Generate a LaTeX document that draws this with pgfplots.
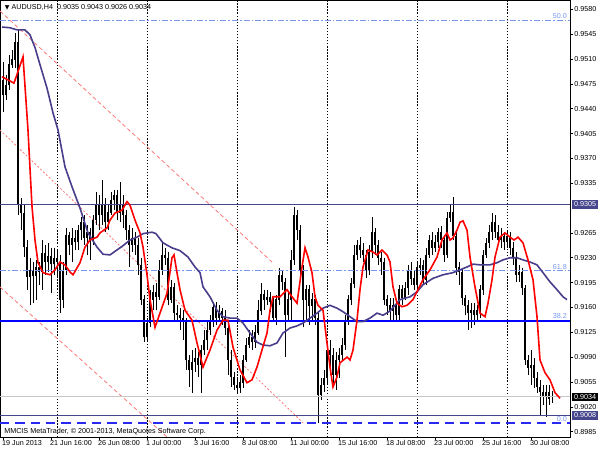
\documentclass[border=0pt]{standalone}
\usepackage{pgfplots}
\pgfplotsset{compat=1.18}
\usepackage{pgfplotstable}
\usepackage{fontspec}
\setmainfont{Liberation Sans}
\newfontfamily\djv{DejaVu Sans}
\newcommand\mtf{\fontsize{5.4}{6.2}\selectfont}

\definecolor{bull}{RGB}{20,130,20}
\definecolor{bear}{RGB}{175,25,25}
\definecolor{slow}{RGB}{72,61,139}
\definecolor{level}{RGB}{70,70,140}
\definecolor{fib}{RGB}{120,150,240}
\definecolor{trend}{RGB}{250,120,120}
\definecolor{bline}{RGB}{40,40,240}

\pgfplotsset{
  discard if not/.style 2 args={x filter/.code={%
    \edef\tempa{\thisrow{#1}}\edef\tempb{#2}%
    \ifx\tempa\tempb\else\def\pgfmathresult{inf}\fi}},
  body/.style={forget plot, draw=none, mark=none,
    error bars/.cd, y dir=plus, y explicit, error mark=none},
}

% H4 candles, i = bar number from 19 Jun 2013 00:00, t = 1 up bar
\pgfplotstableread{
i o h l c t
0 0.9480 0.9506 0.9435 0.9459 0
1 0.9459 0.9487 0.9452 0.9473 1
2 0.9473 0.9516 0.9466 0.9502 1
3 0.9502 0.9523 0.9497 0.9509 1
4 0.9509 0.9547 0.9497 0.9533 1
5 0.9533 0.9551 0.9290 0.9304 0
6 0.9304 0.9314 0.9269 0.9293 0
7 0.9293 0.9304 0.9231 0.9245 0
8 0.9245 0.9255 0.9185 0.9203 0
9 0.9203 0.9230 0.9163 0.9213 1
10 0.9213 0.9224 0.9166 0.9204 0
11 0.9204 0.9227 0.9171 0.9216 1
12 0.9216 0.9224 0.9192 0.9210 0
13 0.9210 0.9255 0.9185 0.9237 1
14 0.9237 0.9248 0.9206 0.9224 0
15 0.9224 0.9251 0.9210 0.9232 1
16 0.9232 0.9244 0.9180 0.9221 0
17 0.9221 0.9244 0.9206 0.9230 1
18 0.9230 0.9241 0.9201 0.9224 0
19 0.9224 0.9234 0.9152 0.9171 0
20 0.9171 0.9224 0.9159 0.9213 1
21 0.9213 0.9272 0.9206 0.9262 1
22 0.9262 0.9266 0.9234 0.9248 0
23 0.9248 0.9272 0.9224 0.9258 1
24 0.9258 0.9269 0.9241 0.9252 0
25 0.9252 0.9276 0.9241 0.9269 1
26 0.9269 0.9287 0.9255 0.9280 1
27 0.9280 0.9290 0.9248 0.9258 0
28 0.9258 0.9276 0.9234 0.9266 1
29 0.9266 0.9272 0.9227 0.9255 0
30 0.9255 0.9290 0.9248 0.9283 1
31 0.9283 0.9323 0.9276 0.9304 1
32 0.9304 0.9318 0.9269 0.9290 0
33 0.9290 0.9340 0.9276 0.9304 1
34 0.9304 0.9314 0.9266 0.9280 0
35 0.9280 0.9304 0.9269 0.9294 1
36 0.9294 0.9323 0.9290 0.9311 1
37 0.9311 0.9325 0.9297 0.9318 1
38 0.9318 0.9325 0.9283 0.9294 0
39 0.9294 0.9337 0.9280 0.9304 1
40 0.9304 0.9318 0.9272 0.9290 0
41 0.9290 0.9297 0.9255 0.9269 0
42 0.9269 0.9276 0.9217 0.9248 0
43 0.9248 0.9272 0.9238 0.9258 1
44 0.9258 0.9266 0.9234 0.9248 0
45 0.9248 0.9258 0.9206 0.9220 0
46 0.9220 0.9230 0.9163 0.9171 0
47 0.9171 0.9178 0.9111 0.9118 0
48 0.9118 0.9145 0.9111 0.9138 1
49 0.9138 0.9185 0.9132 0.9171 1
50 0.9171 0.9192 0.9156 0.9182 1
51 0.9182 0.9194 0.9156 0.9175 0
52 0.9175 0.9227 0.9171 0.9213 1
53 0.9213 0.9251 0.9206 0.9234 1
54 0.9234 0.9244 0.9220 0.9230 0
55 0.9230 0.9238 0.9163 0.9171 0
56 0.9171 0.9199 0.9166 0.9189 1
57 0.9189 0.9194 0.9142 0.9152 0
58 0.9152 0.9163 0.9140 0.9149 0
59 0.9149 0.9159 0.9128 0.9145 0
60 0.9145 0.9156 0.9114 0.9140 0
61 0.9140 0.9145 0.9072 0.9086 0
62 0.9086 0.9093 0.9048 0.9072 0
63 0.9072 0.9100 0.9040 0.9083 1
64 0.9083 0.9103 0.9069 0.9089 1
65 0.9089 0.9097 0.9062 0.9079 0
66 0.9079 0.9107 0.9040 0.9100 1
67 0.9100 0.9128 0.9093 0.9114 1
68 0.9114 0.9140 0.9100 0.9128 1
69 0.9128 0.9149 0.9121 0.9140 1
70 0.9140 0.9168 0.9132 0.9161 1
71 0.9161 0.9168 0.9135 0.9145 0
72 0.9145 0.9163 0.9140 0.9154 1
73 0.9154 0.9159 0.9135 0.9145 0
74 0.9145 0.9156 0.9121 0.9131 0
75 0.9131 0.9140 0.9065 0.9086 0
76 0.9086 0.9100 0.9048 0.9062 0
77 0.9062 0.9069 0.9044 0.9051 0
78 0.9051 0.9061 0.9040 0.9047 0
79 0.9047 0.9065 0.9040 0.9054 1
80 0.9054 0.9093 0.9047 0.9086 1
81 0.9086 0.9117 0.9083 0.9107 1
82 0.9107 0.9128 0.9103 0.9118 1
83 0.9118 0.9128 0.9100 0.9111 0
84 0.9111 0.9135 0.9103 0.9125 1
85 0.9125 0.9171 0.9121 0.9156 1
86 0.9156 0.9194 0.9149 0.9178 1
87 0.9178 0.9185 0.9156 0.9171 0
88 0.9171 0.9185 0.9163 0.9175 1
89 0.9175 0.9182 0.9154 0.9168 0
90 0.9168 0.9173 0.9140 0.9145 0
91 0.9145 0.9178 0.9135 0.9171 1
92 0.9171 0.9216 0.9163 0.9206 1
93 0.9206 0.9213 0.9185 0.9196 0
94 0.9196 0.9201 0.9090 0.9149 0
95 0.9149 0.9182 0.9140 0.9171 1
96 0.9171 0.9241 0.9142 0.9227 1
97 0.9227 0.9302 0.9220 0.9290 1
98 0.9290 0.9297 0.9255 0.9269 0
99 0.9269 0.9276 0.9206 0.9213 0
100 0.9213 0.9220 0.9132 0.9171 0
101 0.9171 0.9192 0.9142 0.9185 1
102 0.9185 0.9192 0.9135 0.9163 0
103 0.9163 0.9180 0.9142 0.9171 1
104 0.9171 0.9178 0.9135 0.9145 0
105 0.9145 0.9154 0.8997 0.9037 0
106 0.9037 0.9061 0.9030 0.9051 1
107 0.9051 0.9072 0.9041 0.9061 1
108 0.9061 0.9111 0.9051 0.9100 1
109 0.9100 0.9114 0.9065 0.9093 0
110 0.9093 0.9103 0.9051 0.9065 0
111 0.9065 0.9097 0.9044 0.9086 1
112 0.9086 0.9103 0.9061 0.9093 1
113 0.9093 0.9117 0.9086 0.9107 1
114 0.9107 0.9149 0.9100 0.9142 1
115 0.9142 0.9178 0.9135 0.9171 1
116 0.9171 0.9201 0.9163 0.9194 1
117 0.9194 0.9248 0.9187 0.9234 1
118 0.9234 0.9255 0.9227 0.9248 1
119 0.9248 0.9259 0.9230 0.9241 0
120 0.9241 0.9251 0.9224 0.9234 0
121 0.9234 0.9241 0.9201 0.9213 0
122 0.9213 0.9248 0.9206 0.9238 1
123 0.9238 0.9287 0.9230 0.9266 1
124 0.9266 0.9272 0.9234 0.9248 0
125 0.9248 0.9255 0.9220 0.9230 0
126 0.9230 0.9238 0.9206 0.9224 0
127 0.9224 0.9230 0.9163 0.9171 0
128 0.9171 0.9178 0.9149 0.9163 0
129 0.9163 0.9173 0.9140 0.9156 0
130 0.9156 0.9173 0.9140 0.9163 1
131 0.9163 0.9171 0.9142 0.9149 0
132 0.9149 0.9192 0.9142 0.9185 1
133 0.9185 0.9192 0.9163 0.9173 0
134 0.9173 0.9196 0.9171 0.9187 1
135 0.9187 0.9220 0.9178 0.9213 1
136 0.9213 0.9224 0.9192 0.9201 0
137 0.9201 0.9213 0.9185 0.9192 0
138 0.9192 0.9224 0.9185 0.9216 1
139 0.9216 0.9230 0.9206 0.9220 1
140 0.9220 0.9227 0.9192 0.9199 0
141 0.9199 0.9244 0.9192 0.9234 1
142 0.9234 0.9262 0.9230 0.9255 1
143 0.9255 0.9266 0.9234 0.9244 0
144 0.9244 0.9262 0.9238 0.9252 1
145 0.9252 0.9272 0.9244 0.9266 1
146 0.9266 0.9275 0.9244 0.9255 0
147 0.9255 0.9262 0.9224 0.9234 0
148 0.9234 0.9294 0.9230 0.9286 1
149 0.9286 0.9304 0.9280 0.9294 1
150 0.9294 0.9316 0.9255 0.9261 0
151 0.9261 0.9269 0.9206 0.9216 0
152 0.9216 0.9224 0.9192 0.9210 0
153 0.9210 0.9216 0.9163 0.9173 0
154 0.9173 0.9178 0.9149 0.9163 0
155 0.9163 0.9171 0.9128 0.9152 0
156 0.9152 0.9166 0.9131 0.9156 1
157 0.9156 0.9166 0.9135 0.9149 0
158 0.9149 0.9163 0.9142 0.9156 1
159 0.9156 0.9192 0.9145 0.9185 1
160 0.9185 0.9241 0.9178 0.9234 1
161 0.9234 0.9258 0.9230 0.9251 1
162 0.9251 0.9276 0.9244 0.9266 1
163 0.9266 0.9293 0.9255 0.9280 1
164 0.9280 0.9290 0.9258 0.9266 0
165 0.9266 0.9276 0.9248 0.9255 0
166 0.9255 0.9272 0.9244 0.9261 1
167 0.9261 0.9266 0.9241 0.9252 0
168 0.9252 0.9269 0.9244 0.9261 1
169 0.9261 0.9266 0.9234 0.9244 0
170 0.9244 0.9252 0.9220 0.9230 0
171 0.9230 0.9238 0.9196 0.9206 0
172 0.9206 0.9220 0.9196 0.9210 1
173 0.9210 0.9216 0.9178 0.9187 0
174 0.9187 0.9192 0.9079 0.9086 0
175 0.9086 0.9093 0.9065 0.9075 0
176 0.9075 0.9100 0.9051 0.9079 1
177 0.9079 0.9089 0.9047 0.9061 0
178 0.9061 0.9069 0.9040 0.9048 0
179 0.9048 0.9058 0.9009 0.9041 0
180 0.9041 0.9051 0.9023 0.9034 0
181 0.9034 0.9051 0.9006 0.9040 1
182 0.9040 0.9051 0.9023 0.9032 0
183 0.9035 0.9043 0.9026 0.9034 0
}\candles

\begin{document}
\begin{tikzpicture}
\useasboundingbox (0,0) rectangle (450pt,337.5pt);
\begin{axis}[
  at={(0pt,337.5pt)}, anchor=north west,
  scale only axis, width=427.5pt, height=327.75pt,
  xmin=-1, xmax=189, ymin=0.89775, ymax=0.95931,
  clip mode=individual,
  axis line style={black, line width=0.5pt},
  xtick={0,16,...,176},
  xticklabels={19 Jun 2013, 21 Jun 16:00, 26 Jun 08:00, 1 Jul 00:00,
    3 Jul 16:00, 8 Jul 08:00, 11 Jul 00:00, 15 Jul 16:00, 18 Jul 08:00,
    23 Jul 00:00, 25 Jul 16:00, 30 Jul 08:00},
  xticklabel style={anchor=north west, xshift=-1.8pt, yshift=0.5pt, inner sep=1pt},
  extra x ticks={18,48,78,108,138,168},
  extra x tick labels={},
  extra x tick style={grid=major, major tick length=0pt,
    major grid style={black, line width=0.5pt, dash pattern=on 1pt off 1.3pt}},
  ytick={0.8985,0.9020,0.9055,0.9090,0.9125,0.9160,0.9195,0.9230,0.9265,
    0.9335,0.9370,0.9405,0.9440,0.9475,0.9510,0.9545,0.9580},
  scaled y ticks=false,
  yticklabel pos=right,
  xtick pos=bottom, ytick pos=right,
  tick align=outside, major tick length=2pt,
  tick style={black, line width=0.4pt},
  yticklabel style={inner sep=1pt, /pgf/number format/.cd, fixed, fixed zerofill,
    precision=4, assume math mode=true},
  tick label style={font=\mtf},
]
% trend lines
\addplot[forget plot, trend, line width=0.6pt, dash pattern=on 3pt off 2pt]
  coordinates {(-1,0.95776) (89.67,0.92240)};
\addplot[forget plot, trend, line width=0.6pt, dash pattern=on 1.5pt off 1.5pt]
  coordinates {(-1,0.94100) (100,0.89975)};
\addplot[forget plot, trend, line width=0.6pt, dash pattern=on 3pt off 2pt]
  coordinates {(-1,0.91888) (54.67,0.89775)};

% candles: wicks, body outlines, body fills
\addplot[body, error bar style={draw=black, line width=0.6pt}]
  table[x=i, y=l, y error plus expr=\thisrow{h}-\thisrow{l}] {\candles};
\addplot[body, error bar style={draw=black, line width=2.2pt}]
  table[x=i, y expr={min(\thisrow{o},\thisrow{c})-0.00003},
    y error plus expr={abs(\thisrow{c}-\thisrow{o})+0.00006}] {\candles};
\addplot[discard if not={t}{1}, body, error bar style={draw=bull, line width=1.2pt}]
  table[x=i, y expr={min(\thisrow{o},\thisrow{c})+0.00004},
    y error plus expr={max(abs(\thisrow{c}-\thisrow{o})-0.00008,0)}] {\candles};
\addplot[discard if not={t}{0}, body, error bar style={draw=bear, line width=1.2pt}]
  table[x=i, y expr={min(\thisrow{o},\thisrow{c})+0.00004},
    y error plus expr={max(abs(\thisrow{c}-\thisrow{o})-0.00008,0)}] {\candles};

% horizontal levels
\addplot[forget plot, fib, line width=0.75pt, dash pattern=on 4.5pt off 1.5pt on 1.2pt off 1.5pt]
  coordinates {(-1,0.95649) (189,0.95649)};
\addplot[forget plot, fib, line width=0.75pt, dash pattern=on 4.5pt off 1.5pt on 1.2pt off 1.5pt]
  coordinates {(-1,0.92114) (189,0.92114)};
\addplot[forget plot, blue, line width=1.5pt]
  coordinates {(-1,0.91413) (189,0.91413)};
\addplot[forget plot, level, line width=1.1pt]
  coordinates {(-1,0.9305) (189,0.9305)};
\addplot[forget plot, black!22, line width=0.75pt]
  coordinates {(-1,0.9034) (189,0.9034)};
\addplot[forget plot, level, line width=1.1pt]
  coordinates {(-1,0.9008) (189,0.9008)};
\addplot[forget plot, bline, line width=0.9pt, dash pattern=on 7pt off 4.5pt]
  coordinates {(-1,0.89973) (189,0.89973)};

% slow moving average
\addplot[slow, line width=1.2pt] coordinates {
(-0.33,0.9555) (2.33,0.9554) (4.67,0.9551) (7.33,0.9551) (9,0.9544)
(10.67,0.9526) (12.33,0.9502) (14.67,0.9469) (16.67,0.9434) (18.33,0.9410)
(20.67,0.9358) (23,0.9330) (25.67,0.9300) (28.33,0.9265) (31.33,0.9245)
(33.33,0.9235) (35.67,0.9234) (38,0.9241) (40,0.9247) (42.33,0.9255)
(44.67,0.9259) (46.67,0.9264) (49.67,0.9266) (51,0.9264) (53.33,0.9251)
(56.33,0.9244) (59,0.9240) (61.67,0.9231) (64,0.9217) (65.67,0.9209)
(66.67,0.9189) (69,0.9175) (71.33,0.9156) (73.33,0.9147) (75.67,0.9145)
(78,0.9145) (80,0.9138) (82.33,0.9124) (84.67,0.9111) (86.67,0.9107)
(89,0.9106) (91.33,0.9110) (93.33,0.9124) (95.67,0.9131) (98,0.9134)
(100,0.9138) (102.33,0.9145) (104.67,0.9152) (106.67,0.9159) (109,0.9163)
(111.33,0.9159) (113.33,0.9154) (115.67,0.9147) (118,0.9140) (120,0.9140)
(122.33,0.9145) (124.67,0.9152) (126.67,0.9149) (129,0.9155) (132.33,0.9171)
(135.67,0.9175) (138,0.9182) (140,0.9192) (143.33,0.9201) (146.67,0.9206)
(150,0.9209) (152.33,0.9213) (154.67,0.9217) (156.67,0.9221) (159,0.9220)
(162.33,0.9220) (164.67,0.9223) (166.67,0.9227) (169,0.9230) (171.33,0.9230)
(173.33,0.9227) (175.67,0.9224) (178,0.9220) (180,0.9209) (182.33,0.9196)
(184.67,0.9185) (186.67,0.9175) (188,0.9171)};

% fast moving average
\addplot[red, line width=1.2pt] coordinates {
(-0.33,0.9485) (3.67,0.9476) (6.67,0.9513) (8.33,0.9410) (9.67,0.9302)
(10.67,0.9255) (11.67,0.9223) (13.33,0.9209) (15.67,0.9206) (17.33,0.9213)
(19,0.9224) (20.67,0.9220) (22.33,0.9210) (23.33,0.9206) (25.67,0.9223)
(27.33,0.9245) (29,0.9255) (31.33,0.9259) (32.33,0.9265) (34.67,0.9272)
(35.67,0.9283) (37.33,0.9293) (39.67,0.9297) (41.33,0.9309) (42.33,0.9304)
(44,0.9283) (45.67,0.9265) (46.67,0.9245) (48,0.9206) (49,0.9171)
(50.67,0.9132) (52.33,0.9152) (54.67,0.9180) (56.33,0.9230) (57,0.9234)
(58,0.9209) (59,0.9185) (60.67,0.9156) (63,0.9142) (64.67,0.9110)
(66.67,0.9076) (69,0.9100) (71.33,0.9128) (73.33,0.9142) (75,0.9142)
(76.67,0.9104) (79,0.9072) (81.33,0.9054) (83,0.9058) (84.67,0.9076)
(86.33,0.9100) (88,0.9124) (89,0.9156) (90,0.9175) (92.33,0.9175)
(94.67,0.9185) (96.33,0.9175) (98,0.9166) (99.67,0.9217) (100.67,0.9244)
(101.67,0.9231) (103,0.9209) (104,0.9175) (105,0.9163) (106.67,0.9156)
(108,0.9110) (109,0.9076) (110,0.9048) (111.33,0.9062) (112.33,0.9082)
(114.67,0.9090) (115.67,0.9086) (116.67,0.9100) (118,0.9142) (119,0.9185)
(120,0.9217) (121.67,0.9241) (123.33,0.9238) (124.67,0.9234) (126.33,0.9241)
(128,0.9234) (129,0.9224) (130,0.9189) (131.33,0.9166) (133,0.9161)
(134.67,0.9163) (136.67,0.9171) (138.33,0.9185) (140,0.9199) (142.33,0.9213)
(144.67,0.9231) (146.33,0.9255) (148,0.9265) (149,0.9255) (150,0.9258)
(151.33,0.9269) (152.33,0.9280) (153.33,0.9282) (154.67,0.9269) (155.67,0.9231)
(157.33,0.9189) (159,0.9152) (160.67,0.9147) (161.67,0.9166) (163,0.9199)
(164,0.9231) (165.67,0.9259) (167.33,0.9265) (169,0.9259) (170.33,0.9255)
(171.67,0.9259) (173.33,0.9251) (175,0.9227) (176.67,0.9199) (178,0.9147)
(179,0.9086) (180.67,0.9068) (182.33,0.9058) (184,0.9040) (185.67,0.9032)};

% texts
\node[anchor=north west, font=\mtf, inner sep=0pt] at (rel axis cs:0,1)
  [xshift=3.5pt, yshift=-3pt] {{\djv\fontsize{4.5}{5}\selectfont▼}\ AUDUSD,H4\ \ 0.9035 0.9043 0.9026 0.9034};
\node[anchor=base west, font=\mtf, inner sep=0pt] at (rel axis cs:0,0)
  [xshift=3pt, yshift=2.4pt] {MMCIS MetaTrader, © 2001-2013, MetaQuotes Software Corp.};
\node[anchor=south east, font=\mtf, text=fib, inner sep=0.6pt] at (axis cs:189,0.95649) [xshift=-1.5pt] {50.0};
\node[anchor=south east, font=\mtf, text=fib, inner sep=0.6pt] at (axis cs:189,0.92114) [xshift=-1.5pt] {61.8};
\node[anchor=south east, font=\mtf, text=fib, inner sep=0.6pt] at (axis cs:189,0.91413) [xshift=-1.5pt, yshift=0.6pt] {38.2};
\node[anchor=south east, font=\mtf, text=fib, inner sep=0.6pt] at (axis cs:189,0.89973) [xshift=-1.5pt] {0.0};
\node[anchor=west, font=\mtf, fill=level, text=white, inner xsep=1.6pt, inner ysep=0pt, minimum height=6.3pt] at (axis cs:189,0.9305) [xshift=1.3pt] {0.9305};
\node[anchor=west, font=\mtf, fill=black, text=white, inner xsep=1.6pt, inner ysep=0pt, minimum height=6.3pt] at (axis cs:189,0.9034) [xshift=1.3pt] {0.9034};
\node[anchor=west, font=\mtf, fill=level, text=white, inner xsep=1.6pt, inner ysep=0pt, minimum height=6.3pt] at (axis cs:189,0.9008) [xshift=1.3pt] {0.9008};
\end{axis}
\end{tikzpicture}
\end{document}
